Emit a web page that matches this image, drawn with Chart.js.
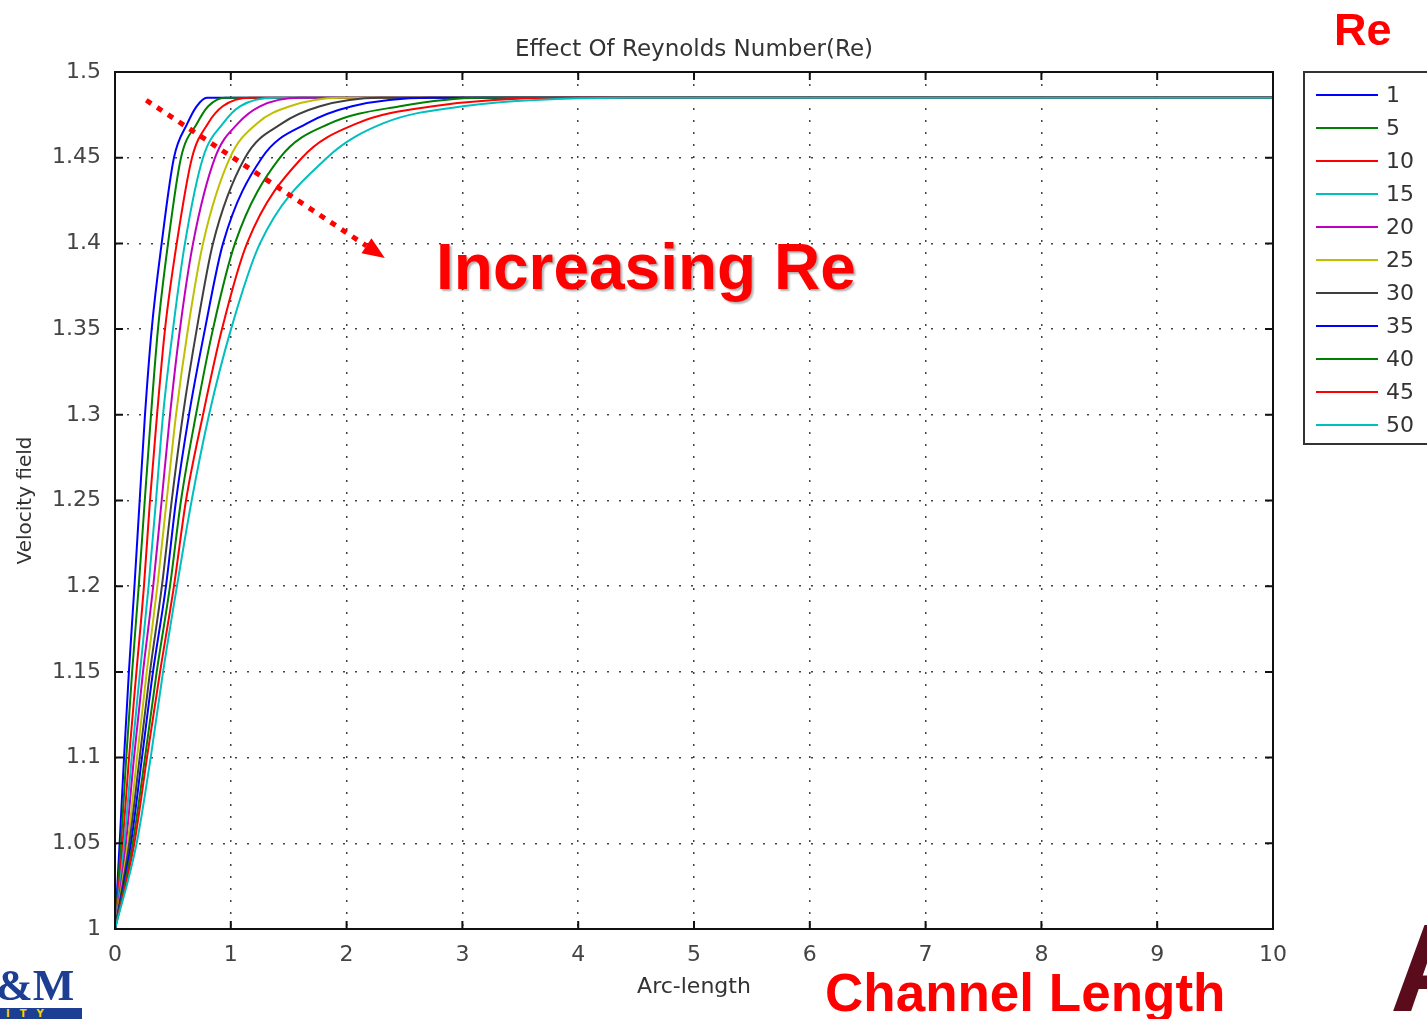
<!DOCTYPE html>
<html>
<head>
<meta charset="utf-8">
<title>Effect Of Reynolds Number(Re)</title>
<script src="https://cdn.jsdelivr.net/npm/chart.js@4.4.1/dist/chart.umd.min.js"></script>
<style>
  body { margin: 0; background: #fff; }
  #wrap { position: relative; width: 1427px; height: 1019px; overflow: hidden; font-family: "DejaVu Sans", sans-serif; }
  #plot { position: absolute; left: 0; top: 0; }
  .red { position: absolute; color: #f00; font-family: "Liberation Sans", Arial, sans-serif; font-weight: bold; line-height: 1; white-space: nowrap; }
  #legend { position: absolute; left: 1303px; top: 71px; width: 150px; height: 370px; border: 2px solid #333; background: #fff; }
  #legend .row { position: absolute; left: 0; height: 22px; }
  #legend .swatch { position: absolute; left: 11px; top: 10px; width: 62px; height: 2px; }
  #legend .txt { position: absolute; left: 81px; top: 0; font-size: 22px; line-height: 22px; color: #333; }
  #logoL { position: absolute; left: -4px; top: 960px; font: bold 44px "Liberation Serif", serif; color: #1c3f94; }
  #logoBar { position: absolute; left: 0; top: 1008px; width: 82px; height: 11px; background: #1c3f94; color: #f5d000; font: bold 10px "DejaVu Sans"; letter-spacing: 10px; padding-left: 6px; box-sizing: border-box; line-height: 11px; }
  #logoR { position: absolute; left: 1390px; top: 905px; font: bold 125px "Liberation Sans", sans-serif; color: #5a0c1c; line-height: 1; }
</style>
</head>
<body>
<div id="wrap">
  <canvas id="plot" width="1427" height="1019"></canvas>
  <div class="red" style="left:1334px; top:7px; font-size:45px;">Re</div>
  <div class="red" style="left:436px; top:235px; font-size:64px; text-shadow: 2px 2px 2px rgba(0,0,0,0.3);">Increasing Re</div>
  <div class="red" style="left:825px; top:966px; font-size:53px;">Channel Length</div>
  <div id="legend"></div>
  <div id="logoL">&amp;M</div>
  <div id="logoBar">ITY</div>
  <div id="logoR">A</div>
</div>
<script>
// Reynolds numbers of the runs and their line colours
const reNumbers = ['1', '5', '10', '15', '20', '25', '30', '35', '40', '45', '50'];
const reColors = ['#0000ff', '#007f00', '#ff0000', '#00bfbf', '#bf00bf', '#bfbf00', '#3f3f3f',
                  '#0000ff', '#007f00', '#ff0000', '#00bfbf'];

// velocity levels and the arc-length at which each run reaches them
const velocityLevels = [1, 1.05, 1.1, 1.15, 1.2, 1.25, 1.3, 1.35, 1.4, 1.45, 1.47, 1.48, 1.485];
const arcRe1  = [0, 0.040, 0.078, 0.120, 0.168, 0.213, 0.259, 0.317, 0.403, 0.509, 0.625, 0.705, 0.794];
const arcRe5  = [0, 0.052, 0.097, 0.148, 0.205, 0.257, 0.311, 0.371, 0.458, 0.570, 0.708, 0.805, 0.950];
const arcRe10 = [0, 0.066, 0.121, 0.185, 0.250, 0.302, 0.363, 0.432, 0.533, 0.665, 0.803, 0.930, 1.166];
const arcRe15 = [0, 0.080, 0.144, 0.216, 0.290, 0.354, 0.415, 0.501, 0.604, 0.760, 0.933, 1.079, 1.382];
const arcRe20 = [0, 0.095, 0.164, 0.242, 0.330, 0.403, 0.475, 0.561, 0.674, 0.864, 1.062, 1.252, 1.598];
const arcRe25 = [0, 0.110, 0.190, 0.274, 0.366, 0.446, 0.527, 0.630, 0.760, 0.993, 1.226, 1.511, 1.943];
const arcRe30 = [0, 0.123, 0.213, 0.302, 0.405, 0.490, 0.587, 0.706, 0.846, 1.123, 1.442, 1.770, 2.288];
const arcRe35 = [0, 0.138, 0.233, 0.328, 0.440, 0.527, 0.639, 0.777, 0.933, 1.269, 1.658, 2.047, 2.720];
const arcRe40 = [0, 0.153, 0.259, 0.360, 0.475, 0.570, 0.699, 0.846, 1.036, 1.425, 1.857, 2.461, 3.152];
const arcRe45 = [0, 0.167, 0.276, 0.389, 0.509, 0.613, 0.760, 0.924, 1.140, 1.615, 2.090, 2.746, 3.843];
const arcRe50 = [0, 0.187, 0.308, 0.415, 0.535, 0.662, 0.812, 1.002, 1.252, 1.831, 2.314, 3.005, 4.404];
const arcByRe = [arcRe1, arcRe5, arcRe10, arcRe15, arcRe20, arcRe25, arcRe30, arcRe35, arcRe40, arcRe45, arcRe50];
const channelEnd = 10;

const xTicks = [0, 1, 2, 3, 4, 5, 6, 7, 8, 9, 10];
const yTicks = [1, 1.05, 1.1, 1.15, 1.2, 1.25, 1.3, 1.35, 1.4, 1.45, 1.5];
const chartTitle = 'Effect Of Reynolds Number(Re)';

// dotted trend arrow, in data units
const trendFrom = { x: 0.27, y: 1.4835 };
const trendTo = { x: 2.33, y: 1.3915 };

const datasets = reNumbers.map((re, i) => {
  const pts = velocityLevels.map((v, k) => ({ x: arcByRe[i][k], y: v }));
  pts.push({ x: channelEnd, y: velocityLevels[velocityLevels.length - 1] });
  return {
    label: re,
    data: pts,
    borderColor: reColors[i],
    borderWidth: 2,
    pointRadius: 0,
    fill: false,
    cubicInterpolationMode: 'monotone',
    order: reNumbers.length - i
  };
});

const tickFont = { family: 'DejaVu Sans', size: 22 };

const framePlugin = {
  id: 'frame',
  afterDatasetsDraw(chart) {
    const { ctx, scales: { x, y } } = chart;
    // Increasing Re arrow
    const x0 = x.getPixelForValue(trendFrom.x), y0 = y.getPixelForValue(trendFrom.y);
    const x1 = x.getPixelForValue(trendTo.x), y1 = y.getPixelForValue(trendTo.y);
    const ang = Math.atan2(y1 - y0, x1 - x0);
    const head = 22;
    const bx = x1 - head * Math.cos(ang), by = y1 - head * Math.sin(ang);
    ctx.save();
    ctx.strokeStyle = '#f00';
    ctx.fillStyle = '#f00';
    ctx.lineWidth = 5;
    ctx.setLineDash([6, 7]);
    ctx.beginPath();
    ctx.moveTo(x0, y0);
    ctx.lineTo(bx, by);
    ctx.stroke();
    ctx.setLineDash([]);
    ctx.beginPath();
    ctx.moveTo(x1, y1);
    ctx.lineTo(bx + 9 * Math.sin(ang), by - 9 * Math.cos(ang));
    ctx.lineTo(bx - 9 * Math.sin(ang), by + 9 * Math.cos(ang));
    ctx.closePath();
    ctx.fill();
    ctx.restore();
  },
  afterDraw(chart) {
    const { ctx, chartArea: a, scales: { x, y } } = chart;
    ctx.save();
    ctx.strokeStyle = '#111';
    ctx.lineWidth = 2;
    ctx.strokeRect(a.left, a.top, a.right - a.left, a.bottom - a.top);
    ctx.beginPath();
    xTicks.forEach(v => {
      const px = x.getPixelForValue(v);
      ctx.moveTo(px, a.top); ctx.lineTo(px, a.top + 8);
      ctx.moveTo(px, a.bottom); ctx.lineTo(px, a.bottom - 8);
    });
    yTicks.forEach(v => {
      const py = y.getPixelForValue(v);
      ctx.moveTo(a.left, py); ctx.lineTo(a.left + 8, py);
      ctx.moveTo(a.right, py); ctx.lineTo(a.right - 8, py);
    });
    ctx.stroke();
    ctx.fillStyle = '#333';
    ctx.font = '23px "DejaVu Sans"';
    ctx.textAlign = 'center';
    ctx.textBaseline = 'middle';
    ctx.fillText(chartTitle, (a.left + a.right) / 2, 50);
    ctx.restore();
  }
};

new Chart(document.getElementById('plot'), {
  type: 'line',
  data: { datasets },
  options: {
    responsive: false,
    animation: false,
    devicePixelRatio: 1,
    layout: { padding: { left: 0, right: 154, top: 72, bottom: 0 } },
    plugins: { legend: { display: false }, tooltip: { enabled: false }, title: { display: false } },
    scales: {
      x: {
        type: 'linear', min: 0, max: channelEnd,
        afterBuildTicks: s => { s.ticks = xTicks.map(v => ({ value: v })); },
        afterFit: s => { s.height = 90; },
        ticks: { font: tickFont, color: '#444', padding: 13, maxRotation: 0, callback: v => String(v) },
        grid: { color: '#444', lineWidth: 1.5, drawTicks: false },
        border: { display: false, dash: [2, 10] },
        title: { display: true, text: 'Arc-length', font: tickFont, color: '#333', padding: { top: 0, bottom: 19 } }
      },
      y: {
        type: 'linear', min: 1, max: 1.5,
        afterBuildTicks: s => { s.ticks = yTicks.map(v => ({ value: v })); },
        afterFit: s => { s.width = 115; },
        ticks: { font: tickFont, color: '#444', padding: 14, callback: v => String(+v.toFixed(2)) },
        grid: { color: '#444', lineWidth: 1.5, drawTicks: false },
        border: { display: false, dash: [2, 10] },
        title: { display: true, text: 'Velocity field', font: { family: 'DejaVu Sans', size: 20 }, color: '#333', padding: { top: 14, bottom: 0 } }
      }
    }
  },
  plugins: [framePlugin]
});

// legend box
const legend = document.getElementById('legend');
reNumbers.forEach((re, i) => {
  const row = document.createElement('div');
  row.className = 'row';
  row.style.top = (11 + 33 * i) + 'px';
  row.style.width = '150px';
  row.innerHTML = `<div class="swatch" style="background:${reColors[i]}"></div><div class="txt">${re}</div>`;
  legend.appendChild(row);
});
</script>
</body>
</html>
